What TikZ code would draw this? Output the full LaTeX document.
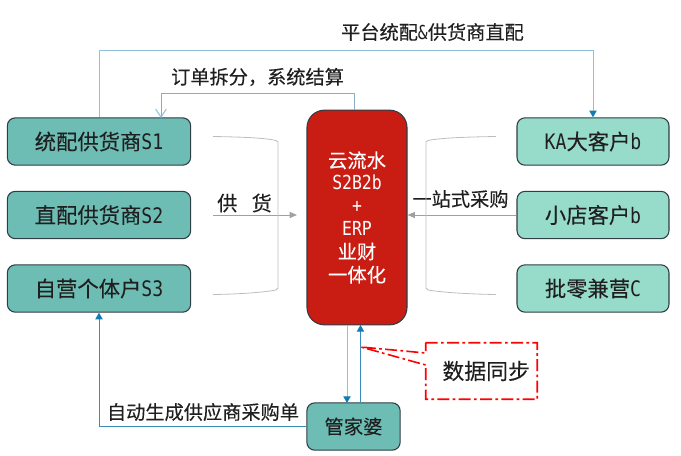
\documentclass[tikz,border=0pt]{standalone}
\usepackage{fontspec}
\setmainfont[FakeBold=0.2]{Noto Sans CJK SC}
\newfontfamily\latf[FakeStretch=0.85]{DejaVu Sans Mono}
\newcommand{\lat}[1]{{\latf #1}}
\lineskiplimit=-100pt
\usetikzlibrary{arrows.meta,calc}
\definecolor{tealL}{HTML}{6DBDB5}
\definecolor{tealR}{HTML}{97DBCB}
\definecolor{redB}{HTML}{C91D14}
\definecolor{edgeD}{HTML}{2F3D44}
\definecolor{blueL}{HTML}{3A8DBB}
\definecolor{blueT}{HTML}{0F7DB5}
\definecolor{blueP}{HTML}{8FC1DC}
\definecolor{blueG}{HTML}{8AACC0}
\definecolor{greyL}{HTML}{BDBDBD}
\definecolor{greyA}{HTML}{A0A0A0}
\tikzset{
 x=0.75pt,y=-0.75pt,
 boxb/.style={draw=edgeD,line width=0.8pt,rounded corners=6pt,inner sep=0pt,align=center,font=\fontsize{16}{18}\selectfont,text=black!88},
 supplier/.style={boxb,fill=tealL,minimum width=137.5pt,minimum height=35.5pt},
 customer/.style={boxb,fill=tealR,minimum width=114pt,minimum height=35.5pt},
 core/.style={boxb,fill=redB,text=white,rounded corners=13pt,minimum width=75pt,minimum height=161pt,font=\fontsize{14.5}{17.4}\selectfont},
 butler/.style={boxb,fill=tealL,minimum width=70pt,minimum height=35.5pt,font=\fontsize{14.5}{18}\selectfont},
 lab/.style={inner sep=0pt,font=\fontsize{14.4}{18}\selectfont,text=black!88},
 bluearrow/.style={draw=blueL,line width=0.75pt,-{Triangle[length=5pt,width=5.5pt,color=blueT,fill=blueT]}},
 greyarrow/.style={draw=greyA,line width=0.7pt,-{Triangle[length=5.5pt,width=4.5pt,color=greyA,fill=greyA]}},
 bracket/.style={draw=greyL,line width=0.6pt},
}
\begin{document}
\begin{tikzpicture}
\useasboundingbox (0,0) rectangle (681,455);
\node[supplier] (s1) at (99,141.5) {统配供货商\lat{S1}};
\node[supplier] (s2) at (99,215) {直配供货商\lat{S2}};
\node[supplier] (s3) at (99,288.5) {自营个体户\lat{S3}};
\node[customer] (c1) at (593,141.5) {\lat{KA}大客户\lat{b}};
\node[customer] (c2) at (593,215) {小店客户\lat{b}};
\node[customer] (c3) at (593,288.5) {批零兼营\lat{C}};
\node[core] (yun) at (357,217.5) {\raisebox{-1.2pt}{云流水}\\\lat{S2B2b}\\\lat{+}\\\lat{ERP}\\业财\\一体化};
\node[butler] (gjp) at (353.5,426.5) {管家婆};
\node[lab] (t1) at (432.5,32) {平台统配\lat{\&}供货商直配};
\node[lab] (t2) at (257.5,77) {订单拆分，系统结算};
\node[lab,font=\fontsize{15.2}{18}\selectfont] (t3) at (244.5,203) {供\hspace{0.7em}货};
\node[lab] (t4) at (460.5,199) {一站式采购};
\node[lab] (t5) at (203,412) {自动生成供应商采购单};
\node[inner sep=0pt,minimum width=83.25pt,minimum height=42pt,font=\fontsize{16.4}{18}\selectfont,text=black!88] (sync) at (481.5,371) {\hspace{7pt}数据同步};
% connectors
\coordinate (tipsync) at (361,347);
\coordinate (supin) at (213,215);
\coordinate (supout) at (297,215);
\draw[draw=blueP,line width=0.75pt,-{Triangle[length=5pt,width=5.5pt,color=blueT,fill=blueT]}] (s1.north) |- (593,50) -- (c1.north);
\draw[draw=blueG,line width=0.75pt,-{Straight Barb[length=6pt,width=8pt,color=blueP]}] (yun.north -| 354,0) |- (161,93) -- (161,118);
\draw[greyarrow] (supin) -- (supout);
\draw[greyarrow] (c2.west) -- (c2.west -| yun.east);
\draw[bluearrow,draw=blueP] (347,325) -- (347,403);
\draw[bluearrow] (360.5,403) -- (360.5,325);
\draw[bluearrow] (gjp.west) -| (s3.south);
% grey brackets
\draw[bracket] (213,136.5) .. controls (245,137) and (265,138) .. (276,140.5) -- (278,142) -- (278,288) -- (276,290) .. controls (265,292) and (245,294) .. (213,294.5);
\draw[bracket] (496,136.5) .. controls (464,137) and (440,138) .. (428,140.5) -- (426,142) -- (426,288) -- (428,290) .. controls (440,292) and (464,294) .. (496,294.5);
% callout
\draw[red,line width=1.2pt,dash pattern=on 9pt off 2.5pt on 2pt off 2.5pt]
 (sync.north west) -- (sync.north east) -- (sync.south east) -- (sync.south west)
 -- (sync.west |- 0,365) -- (tipsync) -- (sync.west |- 0,353) -- cycle;
\end{tikzpicture}
\end{document}
